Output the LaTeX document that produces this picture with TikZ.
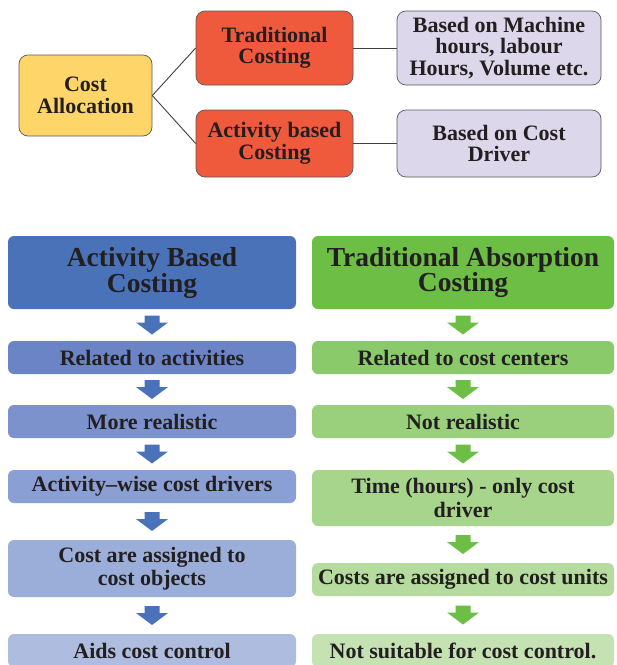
\documentclass[tikz,border=0pt]{standalone}
\usepackage{fontspec}
\setmainfont{Liberation Serif}
\usetikzlibrary{calc}
\definecolor{txt}{HTML}{231F20}
\definecolor{yell}{HTML}{FDD568}
\definecolor{redbox}{HTML}{EF5A3D}
\definecolor{lav}{HTML}{DCD7EA}
\definecolor{abcA}{HTML}{4A72B9}
\definecolor{abcB}{HTML}{6A84C5}
\definecolor{abcC}{HTML}{7B92CD}
\definecolor{abcD}{HTML}{8A9FD3}
\definecolor{abcE}{HTML}{9BAED9}
\definecolor{abcF}{HTML}{AEBCE0}
\definecolor{tacA}{HTML}{6CBE45}
\definecolor{tacB}{HTML}{8ACA6A}
\definecolor{tacC}{HTML}{9AD07C}
\definecolor{tacD}{HTML}{A8D58C}
\definecolor{tacE}{HTML}{B5DB9E}
\definecolor{tacF}{HTML}{C5E2B2}
\begin{document}
\begin{tikzpicture}[x=1pt,y=-1pt,font=\fontsize{22}{21.5}\selectfont\bfseries,
  topbox/.style={rounded corners=9pt,draw=black!65,line width=0.7pt,align=center,inner sep=0pt,text=txt},
  colbox/.style={rounded corners=6pt,align=center,inner sep=0pt,text=txt,font=\fontsize{22}{23.5}\selectfont\bfseries},
  head/.style={colbox,font=\fontsize{27.5}{25}\selectfont\bfseries,minimum height=73pt},
  link/.style={draw=black!75,line width=0.9pt}]
\useasboundingbox (0,0) rectangle (617,665);

\node[topbox,fill=yell,minimum width=133pt,minimum height=81pt] (alloc) at (85.5,95.5) {Cost\\Allocation};
\node[topbox,fill=redbox,minimum width=157pt,minimum height=74pt] (trad) at (274.5,48) {Traditional\\Costing};
\node[topbox,fill=redbox,minimum width=157pt,minimum height=67pt] (abc) at (274.5,143.5) {Activity based\\Costing};
\node[topbox,fill=lav,minimum width=204pt,minimum height=74pt] (machine) at (499,48) {Based on Machine\\hours, labour\\Hours, Volume etc.};
\node[topbox,fill=lav,minimum width=204pt,minimum height=67pt] (driver) at (499,143.5) {Based on Cost\\Driver};
\draw[link] (alloc.east) -- (trad.west);
\draw[link] (alloc.east) -- (abc.west);
\draw[link] (trad.east) -- (machine.west);
\draw[link] (abc.east) -- (driver.west);

\node[head,fill=abcA,minimum width=288pt] (lh) at (152,272.5) {Activity Based\\Costing};
\node[colbox,fill=abcB,minimum width=288pt,minimum height=33pt] (l1) at (152,357.5) {Related to activities};
\node[colbox,fill=abcC,minimum width=288pt,minimum height=33pt] (l2) at (152,421.5) {More realistic};
\node[colbox,fill=abcD,minimum width=288pt,minimum height=33pt] (l3) at (152,486.5) {Activity--wise cost drivers};
\node[colbox,fill=abcE,minimum width=288pt,minimum height=57pt] (l4) at (152,568.5) {Cost are assigned to\\cost objects};
\node[colbox,fill=abcF,minimum width=288pt,minimum height=33pt] (l5) at (152,650.5) {Aids cost control};

\node[head,fill=tacA,minimum width=302pt] (rh) at (463,272.5) {Traditional Absorption\\Costing};
\node[colbox,fill=tacB,minimum width=302pt,minimum height=33pt] (r1) at (463,357.5) {Related to cost centers};
\node[colbox,fill=tacC,minimum width=302pt,minimum height=33pt] (r2) at (463,421.5) {Not realistic};
\node[colbox,fill=tacD,minimum width=302pt,minimum height=56pt] (r3) at (463,498) {Time (hours) - only cost\\driver};
\node[colbox,fill=tacE,minimum width=302pt,minimum height=33pt] (r4) at (463,579.5) {Costs are assigned to cost units};
\node[colbox,fill=tacF,minimum width=302pt,minimum height=33pt] (r5) at (463,650.5) {Not suitable for cost control.};

\foreach \a/\b in {lh/l1,l1/l2,l2/l3,l3/l4,l4/l5}
  \fill[abcA] ($(\a.south)!0.5!(\b.north)$) ++(-7.5,-9.5) -- ++(15,0) -- ++(0,7) -- ++(8.5,0)
    -- ++(-16,12) -- ++(-16,-12) -- ++(8.5,0) -- cycle;
\foreach \a/\b in {rh/r1,r1/r2,r2/r3,r3/r4,r4/r5}
  \fill[tacA] ($(\a.south)!0.5!(\b.north)$) ++(-7.5,-9.5) -- ++(15,0) -- ++(0,7) -- ++(8.5,0)
    -- ++(-16,12) -- ++(-16,-12) -- ++(8.5,0) -- cycle;
\end{tikzpicture}
\end{document}
